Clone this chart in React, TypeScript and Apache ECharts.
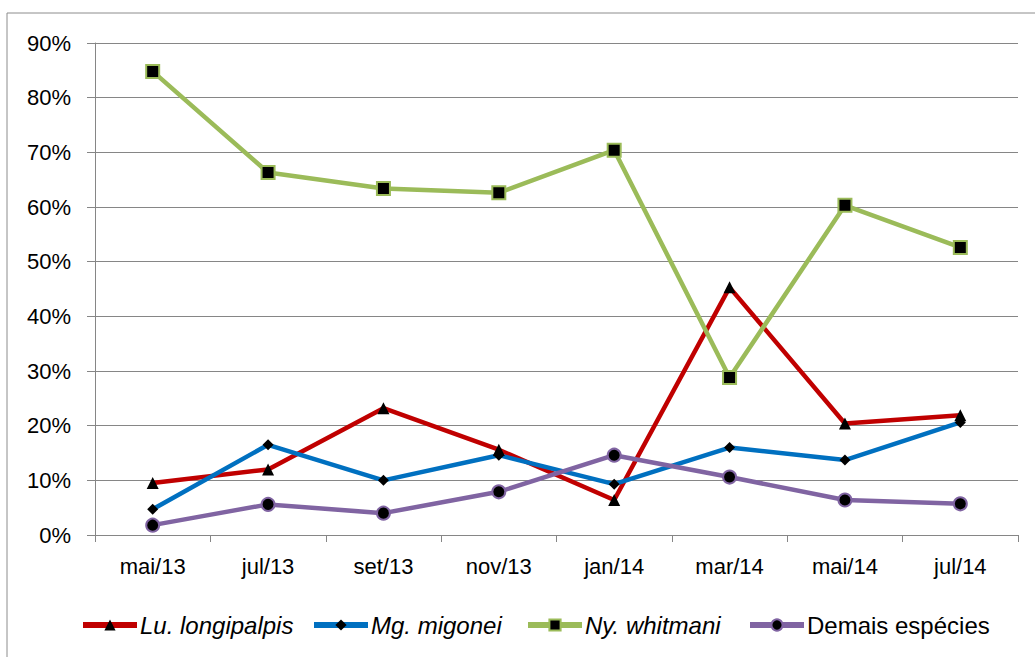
import React, { useEffect, useRef } from "react";
import * as echarts from "echarts";

const categories = ["mai/13", "jul/13", "set/13", "nov/13", "jan/14", "mar/14", "mai/14", "jul/14"];
const luLongipalpis = [9.5, 12.0, 23.2, 15.6, 6.4, 45.3, 20.4, 21.9];
const mgMigonei = [4.7, 16.5, 10.0, 14.6, 9.3, 16.0, 13.7, 20.6];
const nyWhitmani = [84.8, 66.3, 63.4, 62.6, 70.4, 28.8, 60.3, 52.6];
const demaisEspecies = [1.8, 5.6, 4.0, 7.9, 14.6, 10.6, 6.4, 5.7];
const yTicks = [0, 10, 20, 30, 40, 50, 60, 70, 80, 90];

const FONT = "'Liberation Sans', Arial, sans-serif";
const GRID_GRAY = "#868686";

export default function App() {
  const ref = useRef<HTMLDivElement>(null);
  useEffect(() => {
    if (!ref.current) return;
    const chart = echarts.init(ref.current, null, { renderer: "svg" });
    const seriesDefs = [
      { name: "Lu. longipalpis", data: luLongipalpis, color: "#C00000", symbol: "triangle", size: 12, border: "#000", italic: true },
      { name: "Mg. migonei", data: mgMigonei, color: "#0070C0", symbol: "diamond", size: 11, border: "#000", italic: true },
      { name: "Ny. whitmani", data: nyWhitmani, color: "#9BBB59", symbol: "rect", size: 13, border: "#9BBB59", italic: true },
      { name: "Demais espécies", data: demaisEspecies, color: "#8064A2", symbol: "circle", size: 13, border: "#8064A2", italic: false },
    ];
    const legendLefts = [80, 311, 525, 747];
    chart.setOption({
      animation: false,
      backgroundColor: "#ffffff",
      grid: { left: 95, right: 17, top: 43, bottom: 122, containLabel: false },
      graphic: [
        {
          type: "rect",
          shape: { x: 7, y: 13, width: 1060, height: 700 },
          style: { fill: "none", stroke: "#8c8c8c", lineWidth: 1 },
          silent: true,
        },
      ],
      legend: seriesDefs.map((s, i) => ({
        data: [s.name],
        left: legendLefts[i],
        top: 613,
        padding: 0,
        itemWidth: 54,
        itemHeight: 14,
        itemGap: 0,
        lineStyle: { width: 6 },
        textStyle: {
          fontFamily: FONT,
          fontSize: 24,
          color: "#000",
          fontStyle: s.italic ? "italic" : "normal",
          padding: [0, 0, 0, -2],
        },
      })),
      xAxis: {
        type: "category",
        data: categories,
        boundaryGap: true,
        axisLine: { lineStyle: { color: GRID_GRAY, width: 1 } },
        axisTick: { show: true, length: 7, lineStyle: { color: GRID_GRAY } },
        axisLabel: { fontFamily: FONT, fontSize: 22, color: "#000", margin: 20 },
      },
      yAxis: {
        type: "value",
        min: yTicks[0],
        max: yTicks[yTicks.length - 1],
        interval: 10,
        axisLine: { show: true, lineStyle: { color: GRID_GRAY, width: 1 } },
        axisTick: { show: true, length: 8, lineStyle: { color: GRID_GRAY } },
        splitLine: { show: true, lineStyle: { color: GRID_GRAY, width: 1 } },
        axisLabel: {
          fontFamily: FONT,
          fontSize: 22,
          color: "#000",
          margin: 24,
          formatter: "{value}%",
        },
      },
      series: seriesDefs.map((s) => ({
        name: s.name,
        type: "line",
        data: s.data,
        symbol: s.symbol,
        symbolSize: s.size,
        showSymbol: true,
        lineStyle: { color: s.color, width: 4.5 },
        itemStyle: { color: "#000", borderColor: s.border, borderWidth: s.border === "#000" ? 0 : 2 },
        color: s.color,
        z: 2,
      })),
    });
    return () => chart.dispose();
  }, []);
  return (
    <div
      ref={ref}
      style={{ position: "absolute", left: 0, top: 0, width: 1035, height: 657, background: "#fff" }}
    />
  );
}
